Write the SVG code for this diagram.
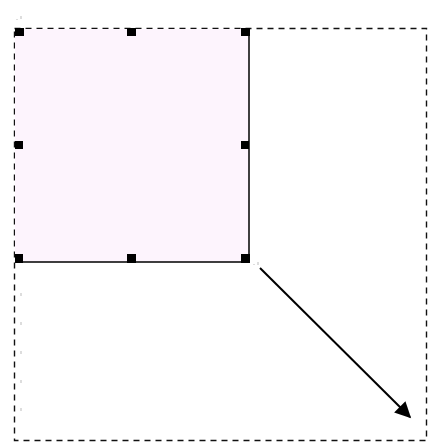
<svg xmlns="http://www.w3.org/2000/svg" width="433" height="447" viewBox="0 0 433 447">
  <defs>
    <marker id="ah" viewBox="0 0 10 10" refX="9" refY="5" markerWidth="18" markerHeight="16" markerUnits="userSpaceOnUse" orient="auto">
      <path d="M0,0 L10,5 L0,10 z" fill="#000"/>
    </marker>
    <style>
      .h { fill: #000; }
      .tick { stroke: #bbb; stroke-width: 1; }
    </style>
  </defs>
  <rect x="0" y="0" width="433" height="447" fill="#fff"/>
  <g id="bounds">
    <rect x="14.5" y="28.5" width="412" height="412" fill="none" stroke="#111" stroke-width="1.4" stroke-dasharray="6,5"/>
  </g>
  <g id="shape">
    <rect x="15" y="29" width="234" height="233" fill="#fdf4fd"/>
    <path d="M249,29 V262 H15" fill="none" stroke="#000" stroke-width="1.5"/>
    <rect class="h" x="15" y="28" width="9" height="8"/>
    <rect class="h" x="127" y="28" width="9" height="8"/>
    <rect class="h" x="241" y="28" width="9" height="8"/>
    <rect class="h" x="15" y="141" width="8" height="8"/>
    <rect class="h" x="241" y="141" width="8" height="8"/>
    <rect class="h" x="15" y="254" width="8" height="9"/>
    <rect class="h" x="127" y="254" width="9" height="9"/>
    <rect class="h" x="241" y="254" width="9" height="9"/>
  </g>
  <g id="marks">
    <path class="tick" d="M21,16 v3 M17,19 v1 M258,262 v3 M254,264 v1 M21,293 v3 M21,322 v3 M21,351 v3 M21,380 v3 M21,408 v3"/>
  </g>
  <g id="connectors">
    <line x1="260" y1="268" x2="410" y2="417" stroke="#000" stroke-width="2" marker-end="url(#ah)"/>
  </g>
</svg>
